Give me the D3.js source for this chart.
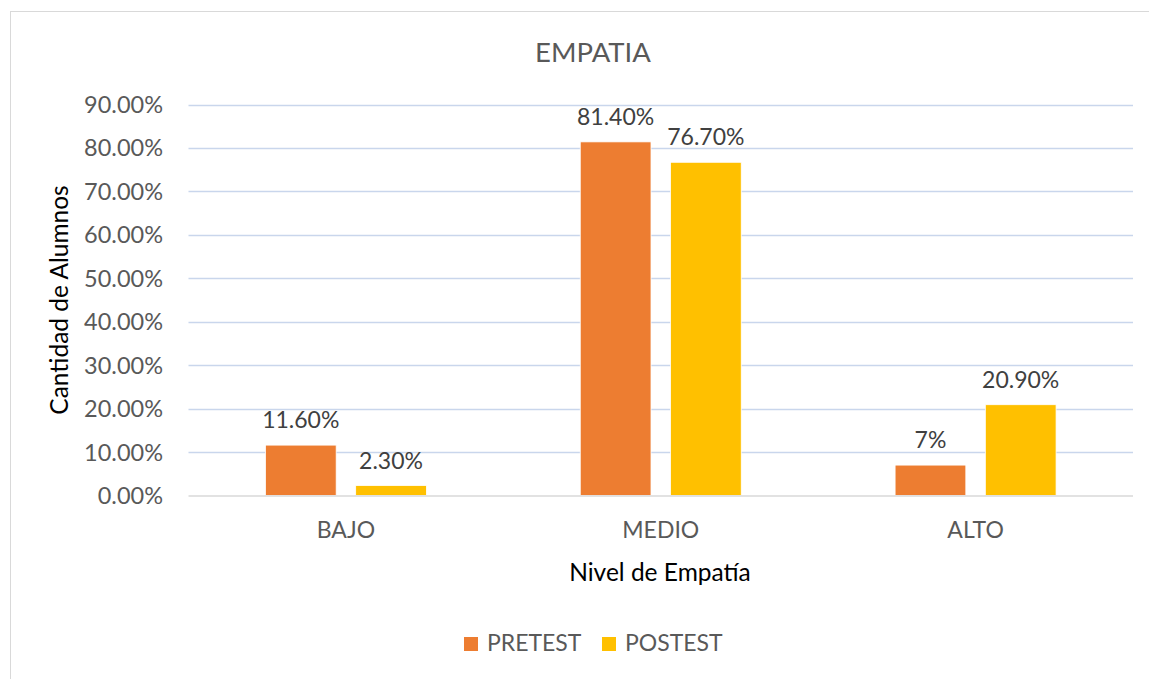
<!DOCTYPE html>
<html>
<head>
<meta charset="utf-8">
<script src="https://cdn.jsdelivr.net/npm/d3@7"></script>
<style>
  body { margin: 0; background: #fff; }
  text { font-family: Lato, "Open Sans", sans-serif; }
</style>
</head>
<body>
<div id="chart"></div>
<script>
// datos
const niveles = ["BAJO", "MEDIO", "ALTO"];
const series = ["PRETEST", "POSTEST"];
const pretest = [11.6, 81.4, 7];
const postest = [2.3, 76.7, 20.9];
const etiquetasPre = ["11.60%", "81.40%", "7%"];
const etiquetasPost = ["2.30%", "76.70%", "20.90%"];
const ticks = [0, 10, 20, 30, 40, 50, 60, 70, 80, 90];
const colores = ["#ED7D31", "#FFC000"];

const W = 1149, H = 679;
const svg = d3.select("#chart").append("svg").attr("width", W).attr("height", H);

// marco
svg.append("rect")
  .attr("x", 10.5).attr("y", 11.5)
  .attr("width", 1200).attr("height", 700)
  .attr("fill", "#fff").attr("stroke", "#D9D9D9").attr("stroke-width", 1);

const plotLeft = 188.5, plotRight = 1133, plotTop = 104.5, plotBottom = 495.5;

const x = d3.scaleBand().domain(niveles).range([plotLeft, plotRight]).padding(0);
const groupW = 161;
const x1 = d3.scaleBand().domain(series).range([-groupW / 2, groupW / 2])
  .paddingInner(0.216).paddingOuter(0);
const y = d3.scaleLinear().domain([0, 90]).range([plotBottom, plotTop]);

// lineas de cuadricula
svg.append("g")
  .selectAll("line")
  .data(ticks.filter((t) => t > 0))
  .enter()
  .append("line")
  .attr("x1", plotLeft).attr("x2", plotRight)
  .attr("y1", (d) => Math.round(y(d)) + 0.5)
  .attr("y2", (d) => Math.round(y(d)) + 0.5)
  .attr("stroke", "#C9D6EC").attr("stroke-width", 1.3);

// etiquetas eje y
svg.append("g")
  .selectAll("text")
  .data(ticks)
  .enter()
  .append("text")
  .attr("x", 163)
  .attr("y", (d) => y(d))
  .attr("dy", "0.36em")
  .attr("text-anchor", "end")
  .style("font-size", "23.5px")
  .style("fill", "#595959")
  .text((d) => d.toFixed(2) + "%");

const datos = [];
niveles.forEach((n, i) => {
  datos.push({ nivel: n, serie: "PRETEST", valor: pretest[i], etiqueta: etiquetasPre[i] });
  datos.push({ nivel: n, serie: "POSTEST", valor: postest[i], etiqueta: etiquetasPost[i] });
});
const color = d3.scaleOrdinal().domain(series).range(colores);
const cx = (d) => x(d.nivel) + x.bandwidth() / 2 + x1(d.serie);

// barras
svg.append("g")
  .selectAll("rect")
  .data(datos)
  .enter()
  .append("rect")
  .attr("x", cx)
  .attr("width", x1.bandwidth())
  .attr("y", (d) => y(d.valor))
  .attr("height", (d) => y(0) - y(d.valor))
  .attr("fill", (d) => color(d.serie))
  .attr("stroke", "#fff").attr("stroke-width", 0.8);

// eje base
svg.append("line")
  .attr("x1", plotLeft).attr("x2", plotRight)
  .attr("y1", plotBottom + 0.5).attr("y2", plotBottom + 0.5)
  .attr("stroke", "#D9D9D9").attr("stroke-width", 1.5);

// etiquetas de datos
svg.append("g")
  .selectAll("text")
  .data(datos)
  .enter()
  .append("text")
  .attr("x", (d) => cx(d) + x1.bandwidth() / 2)
  .attr("y", (d) => y(d.valor) - 17)
  .attr("text-anchor", "middle")
  .style("font-size", "23px")
  .style("fill", "#404040")
  .text((d) => d.etiqueta);

// categorias
svg.append("g")
  .selectAll("text")
  .data(niveles)
  .enter()
  .append("text")
  .attr("x", (d) => x(d) + x.bandwidth() / 2)
  .attr("y", 538)
  .attr("text-anchor", "middle")
  .style("font-size", "23px")
  .style("fill", "#595959")
  .text((d) => d);

// titulo
svg.append("text")
  .attr("x", 593).attr("y", 62)
  .attr("text-anchor", "middle")
  .style("font-size", "27.5px")
  .style("fill", "#595959")
  .text("EMPATIA");

// titulos de ejes
svg.append("text")
  .attr("x", 660).attr("y", 581)
  .attr("text-anchor", "middle")
  .style("font-size", "24.5px")
  .style("fill", "#000")
  .text("Nivel de Empatía");

svg.append("text")
  .attr("transform", "translate(68,300) rotate(-90)")
  .attr("text-anchor", "middle")
  .style("font-size", "24.5px")
  .style("fill", "#000")
  .text("Cantidad de Alumnos");

// leyenda
const leyenda = svg.append("g");
const posLeyenda = [464, 602];
series.forEach((s, i) => {
  leyenda.append("rect")
    .attr("x", posLeyenda[i]).attr("y", 637)
    .attr("width", 14).attr("height", 14)
    .attr("fill", colores[i]);
  leyenda.append("text")
    .attr("x", posLeyenda[i] + 23).attr("y", 651)
    .style("font-size", "23px")
    .style("fill", "#595959")
    .text(s);
});
</script>
</body>
</html>
